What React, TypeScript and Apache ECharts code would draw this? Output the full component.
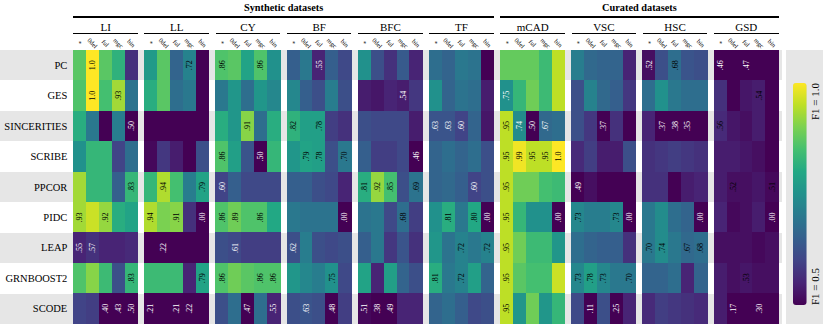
import React, { useEffect, useRef } from 'react';
import * as echarts from 'echarts';

// ---------- data ----------
const ROWS = ['PC', 'GES', 'SINCERITIES', 'SCRIBE', 'PPCOR', 'PIDC', 'LEAP', 'GRNBOOST2', 'SCODE'];
const COLS = ['*', '0del', 'ful', 'mgc', 'bin'];
const GROUPS = ['LI', 'LL', 'CY', 'BF', 'BFC', 'TF', 'mCAD', 'VSC', 'HSC', 'GSD'];
const SECTIONS = [
  { name: 'Synthetic datasets', from: 0, to: 5 },
  { name: 'Curated datasets', from: 6, to: 9 },
];

const LI = [
  [0.87, 1.0, 0.87, 0.82, 0.57],
  [0.86, 1.0, 0.85, 0.93, 0.69],
  [0.81, 0.70, 0.48, 0.71, 0.50],
  [0.75, 0.83, 0.83, 0.60, 0.68],
  [0.93, 0.83, 0.83, 0.65, 0.83],
  [0.93, 0.96, 0.92, 0.81, 0.79],
  [0.55, 0.57, 0.55, 0.55, 0.56],
  [0.86, 0.91, 0.84, 0.62, 0.83],
  [0.60, 0.59, 0.40, 0.43, 0.50],
];
const LL = [
  [0.77, 0.87, 0.66, 0.72, 0.49],
  [0.81, 0.87, 0.68, 0.70, 0.49],
  [0.48, 0.48, 0.48, 0.48, 0.48],
  [0.51, 0.58, 0.54, 0.50, 0.62],
  [0.83, 0.94, 0.85, 0.71, 0.79],
  [0.94, 0.90, 0.91, 0.57, 0.00],
  [0.48, 0.22, 0.48, 0.48, 0.48],
  [0.84, 0.84, 0.84, 0.55, 0.79],
  [0.21, 0.48, 0.21, 0.22, 0.48],
];
const CY = [
  [0.86, 0.87, 0.79, 0.86, 0.75],
  [0.70, 0.76, 0.68, 0.76, 0.73],
  [0.81, 0.76, 0.91, 0.68, 0.81],
  [0.86, 0.78, 0.63, 0.50, 0.83],
  [0.60, 0.65, 0.61, 0.61, 0.61],
  [0.86, 0.89, 0.86, 0.86, 0.80],
  [0.62, 0.61, 0.59, 0.59, 0.59],
  [0.86, 0.89, 0.87, 0.86, 0.86],
  [0.62, 0.68, 0.47, 0.68, 0.55],
];
const BF = [
  [0.65, 0.70, 0.55, 0.65, 0.61],
  [0.73, 0.65, 0.62, 0.71, 0.62],
  [0.82, 0.78, 0.78, 0.59, 0.57],
  [0.76, 0.79, 0.78, 0.62, 0.70],
  [0.65, 0.65, 0.62, 0.61, 0.55],
  [0.70, 0.69, 0.69, 0.69, 0.00],
  [0.62, 0.71, 0.62, 0.61, 0.62],
  [0.76, 0.73, 0.71, 0.75, 0.61],
  [0.62, 0.63, 0.62, 0.48, 0.59],
];
const BFC = [
  [0.75, 0.62, 0.57, 0.64, 0.55],
  [0.54, 0.53, 0.55, 0.54, 0.58],
  [0.62, 0.61, 0.61, 0.61, 0.54],
  [0.65, 0.59, 0.59, 0.61, 0.46],
  [0.81, 0.92, 0.85, 0.62, 0.69],
  [0.69, 0.70, 0.61, 0.68, 0.59],
  [0.65, 0.70, 0.58, 0.63, 0.57],
  [0.79, 0.55, 0.78, 0.66, 0.62],
  [0.51, 0.38, 0.49, 0.55, 0.55],
];
const TF = [
  [0.68, 0.66, 0.70, 0.69, 0.49],
  [0.75, 0.66, 0.69, 0.68, 0.54],
  [0.63, 0.63, 0.60, 0.66, 0.53],
  [0.66, 0.68, 0.66, 0.68, 0.62],
  [0.66, 0.67, 0.65, 0.60, 0.62],
  [0.75, 0.81, 0.70, 0.80, 0.00],
  [0.76, 0.69, 0.72, 0.70, 0.72],
  [0.81, 0.70, 0.72, 0.78, 0.66],
  [0.66, 0.68, 0.65, 0.61, 0.62],
];
const MCAD = [
  [0.88, 0.88, 0.88, 0.84, 0.95],
  [0.75, 0.83, 0.89, 0.84, 0.95],
  [0.95, 0.74, 0.50, 0.67, 0.68],
  [0.95, 0.99, 0.95, 0.95, 1.0],
  [0.95, 0.89, 0.89, 0.85, 0.84],
  [0.95, 0.83, 0.75, 0.75, 0.00],
  [0.95, 0.89, 0.84, 0.84, 0.76],
  [0.95, 0.87, 0.85, 0.85, 0.96],
  [0.95, 0.76, 0.89, 0.76, 0.83],
];
const VSC = [
  [0.71, 0.67, 0.66, 0.66, 0.55],
  [0.62, 0.72, 0.67, 0.65, 0.58],
  [0.62, 0.58, 0.37, 0.57, 0.48],
  [0.56, 0.59, 0.54, 0.54, 0.62],
  [0.49, 0.52, 0.48, 0.48, 0.48],
  [0.73, 0.71, 0.71, 0.73, 0.00],
  [0.68, 0.66, 0.65, 0.65, 0.57],
  [0.73, 0.78, 0.73, 0.70, 0.70],
  [0.61, 0.11, 0.62, 0.25, 0.55],
];
const HSC = [
  [0.52, 0.62, 0.68, 0.63, 0.62],
  [0.68, 0.75, 0.70, 0.68, 0.68],
  [0.55, 0.37, 0.38, 0.35, 0.47],
  [0.57, 0.58, 0.59, 0.58, 0.57],
  [0.57, 0.57, 0.48, 0.54, 0.55],
  [0.70, 0.74, 0.68, 0.66, 0.00],
  [0.70, 0.74, 0.70, 0.67, 0.68],
  [0.66, 0.66, 0.68, 0.55, 0.66],
  [0.56, 0.59, 0.58, 0.57, 0.56],
];
const GSD = [
  [0.46, 0.48, 0.47, 0.48, 0.48],
  [0.57, 0.48, 0.53, 0.54, 0.47],
  [0.56, 0.53, 0.52, 0.54, 0.48],
  [0.54, 0.54, 0.53, 0.52, 0.48],
  [0.54, 0.52, 0.52, 0.53, 0.51],
  [0.55, 0.51, 0.52, 0.54, 0.00],
  [0.52, 0.52, 0.52, 0.51, 0.52],
  [0.54, 0.52, 0.53, 0.52, 0.52],
  [0.54, 0.17, 0.48, 0.30, 0.48],
];

// annotated cells: [row, col]
const LI_ANN = [[0, 1], [1, 1], [1, 3], [2, 4], [4, 4], [5, 0], [5, 2], [6, 0], [6, 1], [7, 4], [8, 2], [8, 3], [8, 4]];
const LL_ANN = [[0, 3], [4, 1], [4, 4], [5, 0], [5, 2], [5, 4], [6, 1], [7, 4], [8, 0], [8, 2], [8, 3]];
const CY_ANN = [[0, 0], [0, 3], [2, 2], [3, 0], [3, 3], [4, 0], [5, 0], [5, 1], [5, 3], [6, 1], [7, 0], [7, 3], [7, 4], [8, 2], [8, 4]];
const BF_ANN = [[0, 2], [2, 0], [2, 2], [3, 1], [3, 2], [3, 4], [5, 4], [6, 0], [7, 3], [8, 1], [8, 3]];
const BFC_ANN = [[1, 3], [3, 4], [4, 0], [4, 1], [4, 2], [4, 4], [5, 3], [8, 0], [8, 1], [8, 2]];
const TF_ANN = [[2, 0], [2, 1], [2, 2], [4, 3], [5, 1], [5, 3], [5, 4], [6, 2], [6, 4], [7, 0], [7, 2]];
const MCAD_ANN = [[1, 0], [2, 0], [2, 1], [2, 2], [2, 3], [3, 0], [3, 1], [3, 2], [3, 3], [3, 4], [4, 0], [5, 0], [5, 4], [6, 0], [7, 0], [8, 0]];
const VSC_ANN = [[2, 2], [4, 0], [5, 0], [5, 3], [5, 4], [7, 0], [7, 1], [7, 2], [7, 4], [8, 1], [8, 3]];
const HSC_ANN = [[0, 0], [0, 2], [2, 1], [2, 2], [2, 3], [5, 4], [6, 0], [6, 1], [6, 3], [6, 4]];
const GSD_ANN = [[0, 0], [0, 2], [1, 3], [2, 0], [4, 1], [4, 4], [5, 4], [7, 2], [8, 1], [8, 3]];

const GROUP_VALUES = [LI, LL, CY, BF, BFC, TF, MCAD, VSC, HSC, GSD];
const GROUP_ANN = [LI_ANN, LL_ANN, CY_ANN, BF_ANN, BFC_ANN, TF_ANN, MCAD_ANN, VSC_ANN, HSC_ANN, GSD_ANN];

const COLOR_MIN = 0.5;
const COLOR_MAX = 1.0;
const COLORBAR_LABELS = ['F1 = 1.0', 'F1 = 0.5'];

// ---------- styling / layout ----------
const VIRIDIS = ['#440154', '#482475', '#414487', '#355f8d', '#2a788e', '#21918c', '#22a884', '#44bf70', '#7ad151', '#bddf26', '#fde725'];
const FONT = 'Liberation Serif';
const BAND = '#e6e6e6';
const GRID_TOP = 50;
const GRID_H = 274;
const G_LEFT0 = 73.3;
const G_PITCH = 71.18;
const G_W = 64.6;

const fmt = (v: number) => (v >= 0.995 ? '1.0' : '.' + String(Math.round(v * 100)).padStart(2, '0'));
const textColor = (group: string, v: number) => {
  const th = group === 'mCAD' ? 0.76 : group === 'GSD' ? 0.505 : 0.665;
  return v < th ? '#ffffff' : '#000000';
};

export default function App() {
  const ref = useRef<HTMLDivElement>(null);
  useEffect(() => {
    document.body.style.margin = '0';
    const chart = echarts.init(ref.current!, null, { renderer: 'svg' });
    const groupLeft = (g: number) => G_LEFT0 + G_PITCH * g;

    const grids: any[] = [{ left: 0, top: GRID_TOP, width: 782, height: GRID_H }];
    const xAxes: any[] = [{ type: 'value', gridIndex: 0, show: false }];
    const yAxes: any[] = [{
      type: 'category', gridIndex: 0, data: ROWS, inverse: true,
      axisLine: { show: false }, axisTick: { show: false }, axisLabel: { show: false },
      splitLine: { show: false },
      splitArea: { show: true, areaStyle: { color: [BAND, '#ffffff'] } },
    }];
    const series: any[] = [];

    GROUPS.forEach((g, gi) => {
      grids.push({ left: groupLeft(gi), top: GRID_TOP, width: G_W, height: GRID_H });
      xAxes.push({
        type: 'category', gridIndex: gi + 1, data: COLS, position: 'top',
        axisLine: { show: false }, axisTick: { show: false }, splitLine: { show: false },
        axisLabel: {
          interval: 0, rotate: 45, fontSize: 6.5, margin: 7, color: '#000',
          fontFamily: FONT, align: 'center', verticalAlign: 'middle',
        },
      });
      yAxes.push({
        type: 'category', gridIndex: gi + 1, data: ROWS, inverse: true,
        axisLine: { show: false }, axisTick: { show: false }, splitLine: { show: false },
        axisLabel: { show: gi === 0, fontSize: 10.5, margin: 6, color: '#000', fontFamily: FONT },
      });
      const vals = GROUP_VALUES[gi];
      const ann = GROUP_ANN[gi];
      const data: any[] = [];
      vals.forEach((row, r) => {
        row.forEach((v, c) => {
          const shown = ann.some(([ar, ac]) => ar === r && ac === c);
          const cv = Math.max(COLOR_MIN, Math.min(COLOR_MAX, v));
          data.push({
            value: [c, r, cv],
            label: shown
              ? { show: true, formatter: fmt(v), color: textColor(g, v), rotate: 90, fontSize: 8, fontFamily: FONT }
              : { show: false },
          });
        });
      });
      series.push({
        type: 'heatmap', name: g, xAxisIndex: gi + 1, yAxisIndex: gi + 1, data,
        itemStyle: { borderWidth: 0 },
        emphasis: { disabled: true },
      });
    });

    const graphics: any[] = [];
    graphics.push({ type: 'rect', shape: { x: 786, y: GRID_TOP, width: 37, height: GRID_H }, style: { fill: BAND }, z: -10 });
    SECTIONS.forEach((s) => {
      const x1 = groupLeft(s.from);
      const x2 = groupLeft(s.to) + G_W;
      graphics.push({
        type: 'text', x: (x1 + x2) / 2, y: 7.5,
        style: { text: s.name, fill: '#000', fontSize: 10.3, fontWeight: 'bold', fontFamily: FONT, align: 'center', verticalAlign: 'middle', textAlign: 'center', textVerticalAlign: 'middle' },
      });
      graphics.push({ type: 'line', shape: { x1, y1: 17, x2, y2: 17 }, style: { stroke: '#000', lineWidth: 1.3 } });
    });
    GROUPS.forEach((g, gi) => {
      const x1 = groupLeft(gi);
      graphics.push({
        type: 'text', x: x1 + G_W / 2, y: 26.5,
        style: { text: g, fill: '#000', fontSize: 11, fontFamily: FONT, align: 'center', verticalAlign: 'middle', textAlign: 'center', textVerticalAlign: 'middle' },
      });
      graphics.push({ type: 'line', shape: { x1, y1: 33, x2: x1 + G_W, y2: 33 }, style: { stroke: '#000', lineWidth: 1 } });
    });
    graphics.push({
      type: 'text', x: 814.5, y: 83, rotation: Math.PI / 2,
      style: { text: COLORBAR_LABELS[0], fill: '#000', fontSize: 11, fontFamily: FONT, align: 'right', verticalAlign: 'middle', textAlign: 'right', textVerticalAlign: 'middle' },
    });
    graphics.push({
      type: 'text', x: 814.5, y: 305, rotation: Math.PI / 2,
      style: { text: COLORBAR_LABELS[1], fill: '#000', fontSize: 11, fontFamily: FONT, align: 'left', verticalAlign: 'middle', textAlign: 'left', textVerticalAlign: 'middle' },
    });

    chart.setOption({
      animation: false,
      backgroundColor: '#ffffff',
      textStyle: { fontFamily: FONT },
      grid: grids,
      xAxis: xAxes,
      yAxis: yAxes,
      visualMap: {
        type: 'continuous', min: COLOR_MIN, max: COLOR_MAX, dimension: 2,
        seriesIndex: series.map((_, i) => i),
        inRange: { color: VIRIDIS },
        calculable: false, hoverLink: false, realtime: false,
        left: 793, top: 83, itemWidth: 13.5, itemHeight: 222, padding: 0,
        orient: 'vertical', text: null, showLabel: false, z: 5,
      },
      series,
      graphic: graphics,
    });
    return () => chart.dispose();
  }, []);
  return (
    <>
      <style>{'#heatchart svg path { shape-rendering: crispEdges; }'}</style>
      <div id="heatchart" ref={ref} style={{ width: 830, height: 332, position: 'absolute', left: 0, top: 0 }} />
    </>
  );
}
